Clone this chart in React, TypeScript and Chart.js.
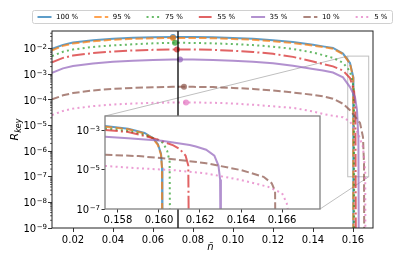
import React, { useEffect, useRef } from "react";
import { Chart, registerables } from "chart.js";

Chart.register(...registerables);

// ---------- data ----------
const seriesLabels = ["100 %", "95 %", "75 %", "55 %", "35 %", "10 %", "5 %"];

// main view: shared n grid, then a per-series tail down to the cut-off
const mainN = [0.0095, 0.015, 0.02, 0.03, 0.04, 0.05, 0.06, 0.07, 0.08, 0.09, 0.1, 0.11, 0.12, 0.13, 0.14, 0.145, 0.15, 0.155, 0.1585];

const main100 = [9.77e-3, 1.41e-2, 1.74e-2, 2.14e-2, 2.45e-2, 2.66e-2, 2.82e-2, 2.88e-2, 2.88e-2, 2.82e-2, 2.63e-2, 2.45e-2, 2.14e-2, 1.82e-2, 1.41e-2, 1.23e-2, 1.07e-2, 6.46e-3, 2.75e-3];
const tail100N = [0.1601, 0.1602];
const tail100R = [7.94e-4, 1e-12];

const main95 = [8.71e-3, 1.29e-2, 1.58e-2, 1.95e-2, 2.24e-2, 2.43e-2, 2.57e-2, 2.63e-2, 2.63e-2, 2.57e-2, 2.4e-2, 2.24e-2, 1.95e-2, 1.66e-2, 1.32e-2, 1.15e-2, 1.0e-2, 6.17e-3, 2.63e-3];
const tail95N = [0.1601, 0.1602];
const tail95R = [7.08e-4, 1e-12];

const main75 = [5.13e-3, 7.59e-3, 9.33e-3, 1.17e-2, 1.35e-2, 1.48e-2, 1.62e-2, 1.7e-2, 1.68e-2, 1.62e-2, 1.51e-2, 1.38e-2, 1.2e-2, 9.77e-3, 7.08e-3, 5.62e-3, 4.37e-3, 2.82e-3, 1.32e-3];
const tail75N = [0.1603, 0.1605, 0.1606];
const tail75R = [3.16e-4, 5.01e-5, 1e-12];

const main55 = [2.95e-3, 4.37e-3, 5.37e-3, 6.76e-3, 7.76e-3, 8.51e-3, 9.02e-3, 9.33e-3, 9.33e-3, 9.02e-3, 8.32e-3, 7.41e-3, 6.31e-3, 4.79e-3, 3.16e-3, 2.51e-3, 2.04e-3, 1.41e-3, 7.08e-4];
const tail55N = [0.1605, 0.1612, 0.1615];
const tail55R = [2.4e-4, 5.01e-5, 1e-12];

const main35 = [1.15e-3, 1.7e-3, 2.09e-3, 2.63e-3, 3.09e-3, 3.39e-3, 3.63e-3, 3.8e-3, 3.8e-3, 3.63e-3, 3.39e-3, 3.09e-3, 2.69e-3, 2.14e-3, 1.62e-3, 1.41e-3, 1.17e-3, 7.59e-4, 3.16e-4];
const tail35N = [0.161, 0.162, 0.1627, 0.163];
const tail35R = [1.29e-4, 3.98e-5, 3.16e-6, 1e-12];

const main10 = [1.05e-4, 1.51e-4, 1.86e-4, 2.34e-4, 2.69e-4, 2.95e-4, 3.13e-4, 3.24e-4, 3.24e-4, 3.16e-4, 2.95e-4, 2.69e-4, 2.34e-4, 1.95e-4, 1.58e-4, 1.38e-4, 1.12e-4, 7.08e-5, 3.98e-5];
const tail10N = [0.1635, 0.165, 0.1655, 0.1657];
const tail10R = [1.26e-5, 3.55e-6, 3.16e-7, 1e-12];

const main5 = [2.57e-5, 3.72e-5, 4.57e-5, 5.75e-5, 6.61e-5, 7.24e-5, 7.67e-5, 7.94e-5, 7.94e-5, 7.76e-5, 7.24e-5, 6.46e-5, 5.62e-5, 4.9e-5, 3.55e-5, 2.82e-5, 2.4e-5, 2.09e-5, 1.41e-5];
const tail5N = [0.1625, 0.165, 0.1661, 0.1663];
const tail5R = [5.01e-6, 1.45e-6, 1.58e-7, 1e-12];

// peak markers
const peakN = [0.07, 0.07, 0.071, 0.072, 0.0735, 0.0755, 0.0765];
const peakR = [2.88e-2, 2.63e-2, 1.7e-2, 9.33e-3, 3.8e-3, 3.24e-4, 7.94e-5];

// vertical reference line
const markerN = 0.0725;

// inset (zoom near the cut-off)
const inset100N = [0.15737, 0.1585, 0.1593, 0.1597, 0.15995, 0.1601, 0.16015, 0.16017];
const inset100R = [1.58e-3, 1.17e-3, 7.08e-4, 3.98e-4, 1.91e-4, 6.31e-5, 1.26e-5, 1e-12];
const inset95N = [0.15737, 0.1585, 0.1593, 0.1597, 0.15995, 0.1601, 0.16015, 0.16017];
const inset95R = [1.48e-3, 1.1e-3, 6.61e-4, 3.72e-4, 1.74e-4, 5.62e-5, 1.12e-5, 1e-12];
const inset75N = [0.15737, 0.1585, 0.1592, 0.15985, 0.1602, 0.1604, 0.16052, 0.16056];
const inset75R = [1.2e-3, 8.91e-4, 6.03e-4, 3.55e-4, 2.24e-4, 8.91e-5, 2.51e-5, 1e-12];
const inset55N = [0.15737, 0.1585, 0.1593, 0.16, 0.1607, 0.161, 0.1613, 0.16143, 0.16148];
const inset55R = [1.0e-3, 7.94e-4, 5.01e-4, 3.16e-4, 1.66e-4, 1.12e-4, 5.01e-5, 1.58e-5, 1e-12];
const inset35N = [0.15737, 0.1585, 0.16013, 0.1615, 0.1618, 0.1623, 0.1627, 0.1629, 0.16298, 0.16302];
const inset35R = [4.57e-4, 3.8e-4, 2.88e-4, 1.74e-4, 1.45e-4, 1.0e-4, 5.01e-5, 1.58e-5, 3.16e-6, 1e-12];
const inset10N = [0.15737, 0.159, 0.1607, 0.1623, 0.164, 0.1651, 0.1655, 0.16566, 0.1657];
const inset10R = [5.62e-5, 4.79e-5, 3.31e-5, 2.09e-5, 9.33e-6, 4.27e-6, 2.0e-6, 7.94e-7, 1e-12];
const inset5N = [0.15737, 0.159, 0.1607, 0.1623, 0.164, 0.1653, 0.166, 0.16623, 0.16632, 0.16636];
const inset5R = [1.51e-5, 1.15e-5, 9.33e-6, 6.31e-6, 2.95e-6, 1.35e-6, 6.31e-7, 1.95e-7, 5.01e-8, 1e-12];

// axes
const xMin = 0.0095, xMax = 0.17;
const yMin = 1e-9, yMax = 0.049;
const xTicks = [0.02, 0.04, 0.06, 0.08, 0.1, 0.12, 0.14, 0.16];
const yTicks = [1e-9, 1e-8, 1e-7, 1e-6, 1e-5, 1e-4, 1e-3, 1e-2];
const insetXMin = 0.15737, insetXMax = 0.16785;
const insetYMin = 1e-7, insetYMax = 5.13e-3;
const insetXTicks = [0.158, 0.16, 0.162, 0.164, 0.166];
const insetYTicks = [1e-7, 1e-5, 1e-3];

// ---------- styles / layout ----------
const W = 415, H = 257;
const MAIN = { left: 52, top: 31, right: 373, bottom: 228 };
const INSET = { left: 105, top: 116, right: 320, bottom: 209 };
const FONT = "'DejaVu Sans'";
const colors = [
  "rgba(31,119,180,0.72)",
  "rgba(255,127,14,0.72)",
  "rgba(44,160,44,0.72)",
  "rgba(214,39,40,0.72)",
  "rgba(148,103,189,0.72)",
  "rgba(140,86,75,0.72)",
  "rgba(227,119,194,0.72)",
];
const dashes: number[][] = [[], [7.4, 3.2], [2, 3.3], [12.8, 3.2, 2, 3.2], [], [7.4, 3.2], [2, 3.3]];

const pts = (ns: number[], rs: number[]) => ns.map((n, i) => ({ x: n, y: rs[i] }));

const mainSeries = [
  pts(mainN, main100).concat(pts(tail100N, tail100R)),
  pts(mainN, main95).concat(pts(tail95N, tail95R)),
  pts(mainN, main75).concat(pts(tail75N, tail75R)),
  pts(mainN, main55).concat(pts(tail55N, tail55R)),
  pts(mainN, main35).concat(pts(tail35N, tail35R)),
  pts(mainN, main10).concat(pts(tail10N, tail10R)),
  pts(mainN, main5).concat(pts(tail5N, tail5R)),
];
const insetSeries = [
  pts(inset100N, inset100R),
  pts(inset95N, inset95R),
  pts(inset75N, inset75R),
  pts(inset55N, inset55R),
  pts(inset35N, inset35R),
  pts(inset10N, inset10R),
  pts(inset5N, inset5R),
];

const lineDatasets = (series: { x: number; y: number }[][]) =>
  series.map((data, i) => ({
    type: "line" as const,
    label: seriesLabels[i],
    data,
    borderColor: colors[i],
    backgroundColor: colors[i],
    borderWidth: 2,
    borderDash: dashes[i],
    pointRadius: 0,
    fill: false,
    tension: 0,
    clip: 0,
    order: 20 - i,
  }));

const axisCommon = (tickLen: number) => ({
  grid: { drawOnChartArea: false, drawTicks: true, tickLength: tickLen, tickColor: "#000", tickWidth: 0.8 },
  border: { display: false },
});

// draws "10^k" labels (mathtext-like) for a log y-axis
function drawPowLabels(chart: any, ticks: number[], rightX: number) {
  const { ctx, scales } = chart;
  const y = scales.y;
  ctx.save();
  ctx.fillStyle = "#000";
  ctx.textBaseline = "alphabetic";
  ctx.textAlign = "left";
  ticks.forEach((v) => {
    const ty = y.getPixelForValue(v);
    const sup = "\u2212" + String(Math.abs(Math.round(Math.log10(v))));
    ctx.font = `10px ${FONT}`;
    const bw = ctx.measureText("10").width;
    ctx.font = `7px ${FONT}`;
    const sw = ctx.measureText(sup).width;
    const x0 = rightX - bw - sw - 0.5;
    ctx.font = `10px ${FONT}`;
    ctx.fillText("10", x0, ty + 3.6);
    ctx.font = `7px ${FONT}`;
    ctx.fillText(sup, x0 + bw + 0.5, ty + 0.6);
  });
  ctx.restore();
}

// ---------- plugins ----------
const mainPlugin = {
  id: "mainDecor",
  beforeDatasetsDraw(chart: any) {
    const { ctx, scales } = chart;
    const x = scales.x, y = scales.y;
    const bl = x.getPixelForValue(insetXMin), br = x.getPixelForValue(insetXMax);
    const bt = y.getPixelForValue(insetYMax), bb = y.getPixelForValue(insetYMin);
    ctx.save();
    ctx.strokeStyle = "#bfbfbf";
    ctx.lineWidth = 1;
    ctx.strokeRect(bl, bt, br - bl, bb - bt);
    ctx.beginPath();
    ctx.moveTo(INSET.left, INSET.top);
    ctx.lineTo(bl, bt);
    ctx.moveTo(INSET.right, INSET.bottom);
    ctx.lineTo(br, bb);
    ctx.stroke();
    ctx.restore();
  },
  afterDatasetsDraw(chart: any) {
    const { ctx, scales, chartArea: ca } = chart;
    const vx = scales.x.getPixelForValue(markerN);
    ctx.save();
    ctx.strokeStyle = "#000";
    ctx.lineWidth = 1.3;
    ctx.beginPath();
    ctx.moveTo(vx, ca.top);
    ctx.lineTo(vx, ca.bottom);
    ctx.stroke();
    ctx.lineWidth = 1;
    ctx.strokeStyle = "#222";
    ctx.strokeRect(ca.left, ca.top, ca.right - ca.left, ca.bottom - ca.top);
    ctx.restore();
  },
  afterDraw(chart: any) {
    const { ctx, scales, chartArea: ca } = chart;
    const y = scales.y;
    drawPowLabels(chart, yTicks, ca.left - 5);
    ctx.save();
    // minor log ticks
    ctx.strokeStyle = "#000";
    ctx.lineWidth = 0.6;
    ctx.beginPath();
    for (let k = -9; k <= -2; k++) {
      for (let m = 2; m <= 9; m++) {
        const v = m * Math.pow(10, k);
        if (v > yMax) continue;
        const py = y.getPixelForValue(v);
        ctx.moveTo(ca.left - 2, py);
        ctx.lineTo(ca.left, py);
      }
    }
    ctx.stroke();

    // legend
    ctx.font = `7px ${FONT}`;
    const handleLen = 14, handlePad = 4.5, colGap = 16, padX = 5;
    const widths = seriesLabels.map((l) => ctx.measureText(l).width);
    const total = widths.reduce((a, w) => a + handleLen + handlePad + w, 0) + colGap * (seriesLabels.length - 1);
    const cx = (ca.left + ca.right) / 2;
    let lx = cx - total / 2;
    const top = 10.5, bottom = 23.5, cy = 17;
    ctx.fillStyle = "rgba(255,255,255,0.8)";
    ctx.strokeStyle = "#d0d0d0";
    ctx.lineWidth = 1;
    ctx.beginPath();
    ctx.roundRect(lx - padX, top, total + 2 * padX, bottom - top, 2);
    ctx.fill();
    ctx.stroke();
    seriesLabels.forEach((l, i) => {
      ctx.strokeStyle = colors[i];
      ctx.lineWidth = 2;
      ctx.setLineDash(dashes[i]);
      ctx.beginPath();
      ctx.moveTo(lx, cy);
      ctx.lineTo(lx + handleLen, cy);
      ctx.stroke();
      ctx.setLineDash([]);
      ctx.fillStyle = "#000";
      ctx.textBaseline = "middle";
      ctx.textAlign = "left";
      ctx.fillText(l, lx + handleLen + handlePad, cy);
      lx += handleLen + handlePad + widths[i] + colGap;
    });

    // axis titles
    ctx.fillStyle = "#000";
    ctx.textBaseline = "alphabetic";
    ctx.textAlign = "left";
    ctx.font = `italic 10px ${FONT}`;
    const nw = ctx.measureText("\u00F1").width;
    ctx.fillText("\u00F1", cx - nw / 2 - 2, 250);

    ctx.translate(18, (ca.top + ca.bottom) / 2);
    ctx.rotate(-Math.PI / 2);
    ctx.font = `italic 11px ${FONT}`;
    const rw = ctx.measureText("R").width;
    ctx.font = `italic 8px ${FONT}`;
    const kw = ctx.measureText("key").width;
    const start = -(rw + kw) / 2;
    ctx.font = `italic 11px ${FONT}`;
    ctx.fillText("R", start, 0);
    ctx.font = `italic 8px ${FONT}`;
    ctx.fillText("key", start + rw, 2.5);
    ctx.restore();
  },
};

const insetPlugin = {
  id: "insetDecor",
  beforeDraw(chart: any) {
    const { ctx, chartArea: ca } = chart;
    ctx.save();
    ctx.fillStyle = "#fff";
    ctx.fillRect(ca.left, ca.top, ca.right - ca.left, ca.bottom - ca.top);
    ctx.restore();
  },
  afterDatasetsDraw(chart: any) {
    const { ctx, chartArea: ca } = chart;
    ctx.save();
    ctx.strokeStyle = "#808080";
    ctx.lineWidth = 1.3;
    ctx.strokeRect(ca.left, ca.top, ca.right - ca.left, ca.bottom - ca.top);
    ctx.restore();
  },
  afterDraw(chart: any) {
    drawPowLabels(chart, insetYTicks, chart.chartArea.left - 5);
  },
};

export default function App() {
  const mainRef = useRef<HTMLCanvasElement>(null);
  const insetRef = useRef<HTMLCanvasElement>(null);

  useEffect(() => {
    const tickFont = { family: FONT, size: 10 };
    const main = new Chart(mainRef.current as HTMLCanvasElement, {
      type: "line",
      data: {
        datasets: [
          ...lineDatasets(mainSeries),
          {
            type: "scatter" as const,
            label: "peaks",
            data: pts(peakN, peakR),
            pointRadius: 3,
            pointBorderWidth: 0,
            pointBackgroundColor: colors,
            backgroundColor: colors,
            showLine: false,
            clip: 0,
            order: 1,
          },
        ] as any,
      },
      options: {
        animation: false,
        responsive: false,
        maintainAspectRatio: false,
        events: [],
        layout: { padding: { left: 0, top: MAIN.top, right: W - MAIN.right, bottom: 0 } },
        plugins: { legend: { display: false }, tooltip: { enabled: false } },
        scales: {
          x: {
            type: "linear",
            min: xMin,
            max: xMax,
            ...axisCommon(4),
            afterBuildTicks: (s: any) => { s.ticks = xTicks.map((v) => ({ value: v })); },
            afterFit: (s: any) => { s.height = H - MAIN.bottom; },
            ticks: { color: "#000", font: tickFont, padding: 2, maxRotation: 0, autoSkip: false, callback: (v: any) => Number(v).toFixed(2) },
          },
          y: {
            type: "logarithmic",
            min: yMin,
            max: yMax,
            ...axisCommon(4),
            afterBuildTicks: (s: any) => { s.ticks = yTicks.map((v) => ({ value: v })); },
            afterFit: (s: any) => { s.width = MAIN.left; },
            ticks: { display: false },
          },
        } as any,
      },
      plugins: [mainPlugin],
    });

    const inset = new Chart(insetRef.current as HTMLCanvasElement, {
      type: "line",
      data: { datasets: lineDatasets(insetSeries) as any },
      options: {
        animation: false,
        responsive: false,
        maintainAspectRatio: false,
        events: [],
        layout: { padding: { left: 0, top: INSET.top, right: W - INSET.right, bottom: 0 } },
        plugins: { legend: { display: false }, tooltip: { enabled: false } },
        scales: {
          x: {
            type: "linear",
            min: insetXMin,
            max: insetXMax,
            ...axisCommon(3.5),
            afterBuildTicks: (s: any) => { s.ticks = insetXTicks.map((v) => ({ value: v })); },
            afterFit: (s: any) => { s.height = H - INSET.bottom; },
            ticks: { color: "#000", font: tickFont, padding: 2, maxRotation: 0, autoSkip: false, callback: (v: any) => Number(v).toFixed(3) },
          },
          y: {
            type: "logarithmic",
            min: insetYMin,
            max: insetYMax,
            ...axisCommon(3.5),
            afterBuildTicks: (s: any) => { s.ticks = insetYTicks.map((v) => ({ value: v })); },
            afterFit: (s: any) => { s.width = INSET.left; },
            ticks: { display: false },
          },
        } as any,
      },
      plugins: [insetPlugin],
    });

    return () => {
      main.destroy();
      inset.destroy();
    };
  }, []);

  return (
    <div style={{ position: "fixed", left: 0, top: 0, width: W, height: H, background: "#fff" }}>
      <canvas ref={mainRef} width={W} height={H} style={{ position: "absolute", left: 0, top: 0 }} />
      <canvas ref={insetRef} width={W} height={H} style={{ position: "absolute", left: 0, top: 0 }} />
    </div>
  );
}
